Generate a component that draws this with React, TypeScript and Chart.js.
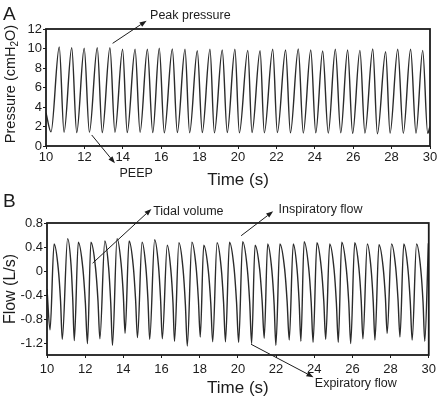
import React, { useEffect, useRef } from 'react';
import { Chart, registerables } from 'chart.js';

Chart.register(...registerables);

const FONT = '"Liberation Sans", Arial, Helvetica, sans-serif';
const INK = '#1c1c1c';
const LINE = '#2b2b2b';

// ---- tick labels ----
const timeTicks = [10, 12, 14, 16, 18, 20, 22, 24, 26, 28, 30];
const pressureTicks = [0, 2, 4, 6, 8, 10, 12];
const flowTicks = [-1.2, -0.8, -0.4, 0, 0.4, 0.8];

// ---- panel A: airway pressure (cmH2O) vs time (s) ----
const pressureTime = [
  10.0,
  10.26, 10.69, 10.94, 11.34, 11.6, 11.99, 12.26, 12.67, 12.93, 13.33,
  13.59, 13.99, 14.23, 14.64, 14.9, 15.28, 15.56, 15.9, 16.16, 16.58,
  16.84, 17.24, 17.48, 17.88, 18.14, 18.54, 18.77, 19.18, 19.44, 19.84,
  20.07, 20.51, 20.73, 21.15, 21.37, 21.81, 22.05, 22.48, 22.73, 23.14,
  23.4, 23.79, 24.05, 24.41, 24.7, 25.07, 25.35, 25.71, 25.97, 26.35,
  26.61, 27.02, 27.26, 27.69, 27.92, 28.32, 28.61, 28.99, 29.27, 29.62,
  29.88, 30.0,
];
const pressureValue = [
  3.4,
  1.45, 10.15, 1.4, 10.08, 1.38, 10.02, 1.4, 10.08, 1.38, 10.08,
  1.4, 9.92, 1.38, 9.92, 1.4, 9.92, 1.38, 10.02, 1.35, 9.95,
  1.38, 9.92, 1.35, 9.77, 1.38, 9.92, 1.35, 9.85, 1.38, 9.92,
  1.35, 9.81, 1.38, 9.77, 1.35, 9.92, 1.38, 9.85, 1.35, 9.95,
  1.32, 9.85, 1.35, 9.74, 1.32, 9.92, 1.35, 9.85, 1.3, 9.81,
  1.32, 9.95, 1.25, 9.67, 1.32, 9.92, 1.3, 9.92, 1.32, 9.81,
  1.3, 2.0,
];

// ---- panel B: flow (L/s) vs time (s) ----
const flowTime = [
  10.0, 10.16, 10.37, 10.59, 10.71,
  10.8, 11.08, 11.26, 11.35,
  11.43, 11.64, 11.88, 12.01,
  12.12, 12.3, 12.54, 12.67,
  12.77, 13.03, 13.23, 13.34,
  13.43, 13.67, 13.88, 14.0,
  14.09, 14.3, 14.52, 14.64,
  14.74, 14.98, 15.18, 15.29,
  15.38, 15.64, 15.84, 15.95,
  16.04, 16.3, 16.49, 16.6,
  16.68, 16.91, 17.13, 17.25,
  17.35, 17.59, 17.81, 17.93,
  18.03, 18.21, 18.45, 18.58,
  18.68, 18.91, 19.13, 19.25,
  19.35, 19.56, 19.8, 19.93,
  20.04, 20.25, 20.49, 20.62,
  20.72, 20.9, 21.14, 21.27,
  21.38, 21.56, 21.78, 21.9,
  21.99, 22.2, 22.45, 22.58,
  22.69, 22.9, 23.1, 23.21,
  23.3, 23.47, 23.71, 23.84,
  23.94, 24.14, 24.37, 24.5,
  24.6, 24.81, 25.04, 25.16,
  25.26, 25.44, 25.68, 25.81,
  25.91, 26.12, 26.34, 26.46,
  26.55, 26.78, 26.98, 27.09,
  27.18, 27.39, 27.61, 27.73,
  27.82, 28.05, 28.27, 28.39,
  28.49, 28.69, 28.91, 29.03,
  29.13, 29.36, 29.58, 29.7,
  29.79, 29.98,
];
const flowValue = [
  -0.3, -0.98, 0.45, 0.04, -0.5,
  -1.14, 0.54, 0.1, -0.48,
  -1.16, 0.48, 0.04, -0.53,
  -1.21, 0.48, 0.06, -0.49,
  -1.13, 0.5, 0.05, -0.54,
  -1.24, 0.54, 0.13, -0.41,
  -1.04, 0.5, 0.08, -0.47,
  -1.11, 0.48, 0.06, -0.49,
  -1.14, 0.52, 0.09, -0.47,
  -1.13, 0.43, 0.01, -0.53,
  -1.17, 0.47, 0.02, -0.56,
  -1.25, 0.48, 0.07, -0.47,
  -1.1, 0.43, 0.01, -0.54,
  -1.18, 0.47, 0.04, -0.52,
  -1.18, 0.48, 0.05, -0.52,
  -1.19, 0.49, 0.05, -0.53,
  -1.21, 0.43, 0.03, -0.5,
  -1.12, 0.45, 0.01, -0.56,
  -1.24, 0.45, 0.03, -0.51,
  -1.15, 0.45, 0.03, -0.52,
  -1.17, 0.49, 0.05, -0.52,
  -1.19, 0.47, 0.05, -0.5,
  -1.14, 0.45, 0.02, -0.53,
  -1.19, 0.48, 0.04, -0.53,
  -1.21, 0.47, 0.05, -0.49,
  -1.13, 0.45, 0.03, -0.51,
  -1.15, 0.44, 0.06, -0.45,
  -1.04, 0.45, 0.05, -0.48,
  -1.1, 0.45, 0.03, -0.51,
  -1.15, 0.45, 0.03, -0.52,
  -1.17, 0.46,
];

// ---- annotations (data coordinates: [time, value]) ----
type Note = { text: string; from: [number, number]; to: [number, number]; label: [number, number] };

const pressureNotes: Note[] = [
  { text: 'Peak pressure', from: [13.47, 10.53], to: [15.24, 12.85], label: [15.42, 13.38] },
  { text: 'PEEP', from: [12.38, 1.13], to: [13.59, -1.77], label: [13.83, -2.87] },
];
const flowNotes: Note[] = [
  { text: 'Tidal volume', from: [12.39, 0.13], to: [15.47, 1.035], label: [15.56, 0.995] },
  { text: 'Inspiratory flow', from: [20.17, 0.588], to: [21.85, 0.995], label: [22.13, 1.023] },
  { text: 'Expiratory flow', from: [20.69, -1.221], to: [23.96, -1.769], label: [24.03, -1.87] },
];

type Panel = {
  top: number;
  height: number;
  padTop: number;
  yWidth: number;
  xHeight: number;
  xPad: number;
  letter: string;
  letterBaseline: number;
  yTitle: [string, string, string];
  yTitleSize: number;
  yTitleCenter: number;
  xTitleOffset: number;
  times: number[];
  values: number[];
  yMin: number;
  yMax: number;
  yTicks: number[];
  notes: Note[];
  fmt: (v: number) => string;
};

function makeOverlay(p: Panel) {
  return {
    id: 'overlay',
    afterDraw(chart: any) {
      const { ctx, chartArea: a, scales } = chart;
      const xs = scales.x;
      const ys = scales.y;
      ctx.save();
      // frame
      ctx.strokeStyle = INK;
      ctx.lineWidth = 1.8;
      ctx.strokeRect(a.left, a.top, a.right - a.left, a.bottom - a.top);

      ctx.fillStyle = INK;
      // panel letter
      ctx.font = `19px ${FONT}`;
      ctx.textAlign = 'left';
      ctx.textBaseline = 'alphabetic';
      ctx.fillText(p.letter, 3, p.letterBaseline);

      // x title
      ctx.font = `17px ${FONT}`;
      ctx.textAlign = 'center';
      ctx.textBaseline = 'middle';
      ctx.fillText('Time (s)', (a.left + a.right) / 2, a.bottom + p.xTitleOffset);

      // y title (rotated, with optional subscript)
      ctx.save();
      ctx.translate(11, p.yTitleCenter);
      ctx.rotate(-Math.PI / 2);
      const big = `${p.yTitleSize}px ${FONT}`;
      const small = `${Math.round(p.yTitleSize * 0.68)}px ${FONT}`;
      ctx.font = big;
      const w1 = ctx.measureText(p.yTitle[0]).width;
      const w3 = ctx.measureText(p.yTitle[2]).width;
      ctx.font = small;
      const w2 = p.yTitle[1] ? ctx.measureText(p.yTitle[1]).width : 0;
      let x0 = -(w1 + w2 + w3) / 2;
      ctx.textAlign = 'left';
      ctx.textBaseline = 'middle';
      ctx.font = big;
      ctx.fillText(p.yTitle[0], x0, 0);
      x0 += w1;
      if (p.yTitle[1]) {
        ctx.font = small;
        ctx.fillText(p.yTitle[1], x0, 4);
        x0 += w2;
      }
      ctx.font = big;
      ctx.fillText(p.yTitle[2], x0, 0);
      ctx.restore();

      // annotations
      ctx.font = `12.5px ${FONT}`;
      ctx.textAlign = 'left';
      ctx.textBaseline = 'middle';
      ctx.lineWidth = 1;
      ctx.strokeStyle = INK;
      for (const n of p.notes) {
        const x1 = xs.getPixelForValue(n.from[0]);
        const y1 = ys.getPixelForValue(n.from[1]);
        const x2 = xs.getPixelForValue(n.to[0]);
        const y2 = ys.getPixelForValue(n.to[1]);
        const ang = Math.atan2(y2 - y1, x2 - x1);
        const L = 7;
        const H = 2.6;
        const bx = x2 - L * Math.cos(ang);
        const by = y2 - L * Math.sin(ang);
        ctx.beginPath();
        ctx.moveTo(x1, y1);
        ctx.lineTo(bx, by);
        ctx.stroke();
        ctx.beginPath();
        ctx.moveTo(x2, y2);
        ctx.lineTo(bx + H * Math.sin(ang), by - H * Math.cos(ang));
        ctx.lineTo(bx - H * Math.sin(ang), by + H * Math.cos(ang));
        ctx.closePath();
        ctx.fill();
        ctx.fillText(n.text, xs.getPixelForValue(n.label[0]), ys.getPixelForValue(n.label[1]));
      }
      ctx.restore();
    },
  };
}

function PanelChart({ p }: { p: Panel }) {
  const ref = useRef<HTMLCanvasElement | null>(null);
  useEffect(() => {
    if (!ref.current) return;
    const chart = new Chart(ref.current, {
      type: 'line',
      data: {
        datasets: [
          {
            data: p.times.map((t, i) => ({ x: t, y: p.values[i] })),
            borderColor: LINE,
            borderWidth: 1.4,
            pointRadius: 0,
            fill: false,
            cubicInterpolationMode: 'monotone',
          },
        ],
      },
      options: {
        responsive: false,
        animation: false,
        devicePixelRatio: 1,
        events: [],
        layout: { padding: { left: 0, right: 10, top: p.padTop, bottom: 0 } },
        plugins: {
          legend: { display: false },
          tooltip: { enabled: false },
          title: { display: false },
        },
        scales: {
          x: {
            type: 'linear',
            min: 10,
            max: 30,
            afterBuildTicks: (s: any) => {
              s.ticks = timeTicks.map((v) => ({ value: v }));
            },
            afterFit: (s: any) => {
              s.height = p.xHeight;
            },
            ticks: {
              font: { size: 13, family: FONT },
              color: INK,
              padding: p.xPad,
              maxRotation: 0,
              autoSkip: false,
              callback: (v: any) => String(v),
            },
            grid: { drawOnChartArea: false, drawTicks: true, tickLength: 3, color: INK, lineWidth: 1 },
            border: { display: false },
          },
          y: {
            type: 'linear',
            min: p.yMin,
            max: p.yMax,
            afterBuildTicks: (s: any) => {
              s.ticks = p.yTicks.map((v) => ({ value: v }));
            },
            afterFit: (s: any) => {
              s.width = p.yWidth;
            },
            ticks: {
              font: { size: 13, family: FONT },
              color: INK,
              padding: 1,
              autoSkip: false,
              callback: (v: any) => p.fmt(Number(v)),
            },
            grid: { drawOnChartArea: false, drawTicks: true, tickLength: 3, color: INK, lineWidth: 1 },
            border: { display: false },
          },
        },
      } as any,
      plugins: [makeOverlay(p)],
    });
    return () => chart.destroy();
  }, [p]);
  return (
    <canvas
      ref={ref}
      width={440}
      height={p.height}
      style={{ position: 'absolute', left: 0, top: p.top, width: 440, height: p.height }}
    />
  );
}

const panelA: Panel = {
  top: 0,
  height: 190,
  padTop: 29,
  yWidth: 46,
  xHeight: 44,
  xPad: 1,
  letter: 'A',
  letterBaseline: 20,
  yTitle: ['Pressure (cmH', '2', 'O)'],
  yTitleSize: 14.5,
  yTitleCenter: 84,
  xTitleOffset: 34,
  times: pressureTime,
  values: pressureValue,
  yMin: 0,
  yMax: 12,
  yTicks: pressureTicks,
  notes: pressureNotes,
  fmt: (v) => String(v),
};

const panelB: Panel = {
  top: 190,
  height: 212,
  padTop: 33,
  yWidth: 47,
  xHeight: 47,
  xPad: 4,
  letter: 'B',
  letterBaseline: 17,
  yTitle: ['Flow (L/s)', '', ''],
  yTitleSize: 16,
  yTitleCenter: 99,
  xTitleOffset: 33,
  times: flowTime,
  values: flowValue,
  yMin: -1.4,
  yMax: 0.8,
  yTicks: flowTicks,
  notes: flowNotes,
  fmt: (v) => (Math.abs(v) < 1e-9 ? '0' : v.toFixed(1)),
};

export default function App() {
  return (
    <div style={{ position: 'absolute', left: 0, top: 0, width: 440, height: 402, background: '#fff' }}>
      <PanelChart p={panelA} />
      <PanelChart p={panelB} />
    </div>
  );
}
